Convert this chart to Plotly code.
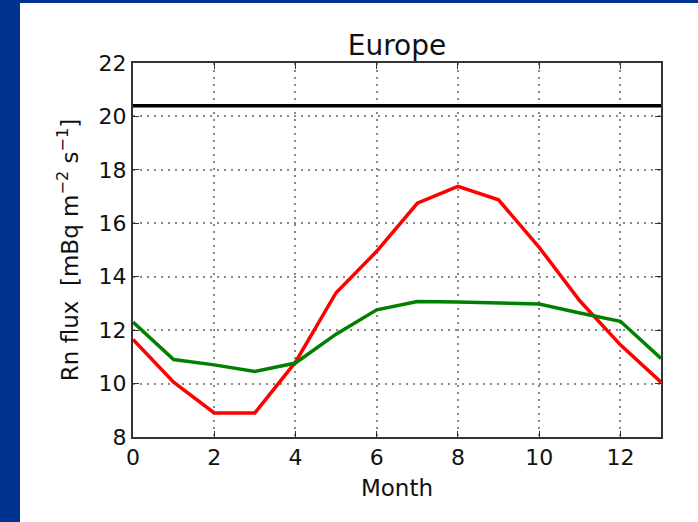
import plotly.graph_objects as go

months = list(range(14))
red_flux = [11.65, 10.05, 8.9, 8.9, 10.8, 13.4, 14.95, 16.75, 17.38, 16.88, 15.1, 13.1, 11.45, 10.05]
green_flux = [12.3, 10.9, 10.7, 10.45, 10.77, 11.85, 12.76, 13.07, 13.05, 13.0, 12.98, 12.64, 12.33, 10.94]
black_level = [20.4] * 14
x_ticks = [0, 2, 4, 6, 8, 10, 12]
y_ticks = [8, 10, 12, 14, 16, 18, 20, 22]

W, H = 698, 522
ml, mr, mt, mb = 133, 37, 63, 85
pw, ph = W - ml - mr, H - mt - mb

fig = go.Figure()
fig.add_trace(go.Scatter(x=months, y=black_level, mode="lines",
                         line=dict(color="black", width=3.5), showlegend=False))
fig.add_trace(go.Scatter(x=months, y=red_flux, mode="lines",
                         line=dict(color="#ff0000", width=3.5), showlegend=False))
fig.add_trace(go.Scatter(x=months, y=green_flux, mode="lines",
                         line=dict(color="#008000", width=3.5), showlegend=False))

# white slide panel on blue background
fig.add_shape(type="rect", xref="paper", yref="paper", layer="below",
              x0=(20 - ml) / pw, x1=(W + 5 - ml) / pw,
              y0=-(mb + 5) / ph, y1=1 + (mt - 3) / ph,
              fillcolor="white", line=dict(width=0))

font = "DejaVu Sans, Arial, sans-serif"
grid_dash = "2px,5px"
fig.update_layout(
    width=W, height=H,
    margin=dict(l=ml, r=mr, t=mt, b=mb),
    paper_bgcolor="#00338F",
    plot_bgcolor="white",
    font=dict(family=font, color="#111111", size=20),
    title=dict(text="Europe", x=(ml + pw / 2) / W, xanchor="center",
               y=1 - 45 / H, yanchor="middle", font=dict(size=28, family=font)),
    xaxis=dict(range=[0, 13], tickvals=x_ticks, ticks="inside", ticklen=6,
               tickcolor="#333", mirror="allticks", showline=True, linecolor="#333",
               linewidth=2, showgrid=True, gridcolor="#888", griddash=grid_dash,
               gridwidth=1.5, zeroline=False,
               title=dict(text="Month", standoff=10, font=dict(size=23)),
               tickfont=dict(size=22)),
    yaxis=dict(range=[8, 22], tickvals=y_ticks, ticks="inside", ticklen=6,
               tickcolor="#333", mirror="allticks", showline=True, linecolor="#333",
               linewidth=2, showgrid=True, gridcolor="#888", griddash=grid_dash,
               gridwidth=1.5, zeroline=False,
               title=dict(text="Rn flux  [mBq m<sup>\u22122</sup> s<sup>\u22121</sup>]",
                          standoff=14, font=dict(size=23)),
               tickfont=dict(size=22)),
)

fig.write_html("out.html", config={"displayModeBar": False},
               post_script="document.body.style.margin='0';document.body.style.overflow='hidden';")
